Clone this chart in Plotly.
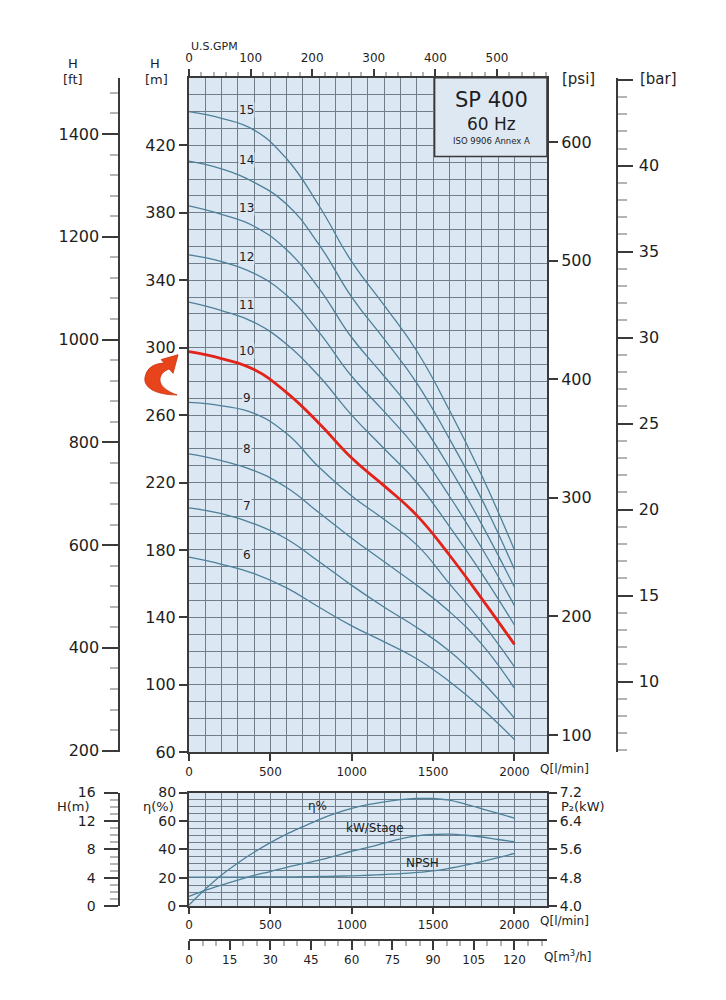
import plotly.graph_objects as go

# page body keeps an 8px margin, so the figure is sized to fit the 726x1000 window exactly
PAGE_MARGIN = 8
W, H = 726 - 2 * PAGE_MARGIN, 1000 - 2 * PAGE_MARGIN

# ---------------- data ----------------
q_lpm = [0, 200, 400, 600, 800, 1000, 1200, 1400, 1600, 1800, 2000]
head_6 = [175.7, 171.5, 166, 157.5, 146, 135, 125.5, 115.5, 102, 86, 67.6]
head_7 = [205, 201.5, 195.5, 186.5, 173, 159, 146, 134, 120, 102, 80.2]
head_8 = [237, 233, 227, 217, 202, 187, 173, 159, 143.5, 124, 98]
head_9 = [267.5, 265.5, 261, 249, 229, 212, 198, 183, 160, 137, 110.7]
head_10 = [297.6, 293.5, 287, 273.3, 255, 234.5, 218, 200.5, 177, 151, 124]
head_11 = [327, 322, 315, 302, 283, 260, 240, 220, 194, 166, 135.5]
head_12 = [355, 351, 344, 331, 309, 283, 262, 240, 212, 181, 147]
head_13 = [384, 379, 372, 358, 335, 306, 283, 259, 229, 195, 158]
head_14 = [410.6, 406, 398, 385, 361, 330, 305, 279, 246, 210, 168.5]
head_15 = [440, 436, 429, 412, 384, 351, 325, 298, 263, 224, 180]
stage_names = ["6", "7", "8", "9", "10", "11", "12", "13", "14", "15"]
stage_heads = [head_6, head_7, head_8, head_9, head_10, head_11, head_12, head_13, head_14, head_15]
highlight_stage = "10"
stage_label_q = 355
stage_label_h = [177, 206, 240, 270, 298, 325, 354, 383, 411, 441]

q_small = [0, 100, 200, 300, 400, 500, 600, 700, 800, 900, 1000,
           1100, 1200, 1300, 1400, 1500, 1600, 1700, 1800, 1900, 2000]
eff_pct = [1, 12, 22, 30.5, 38, 44.8, 50.8, 56, 61, 65.3, 68.8,
           71.5, 73.5, 75, 75.8, 75.8, 74.6, 71.8, 68.6, 65.3, 62]
kw_stage = [4.28, 4.45, 4.6, 4.74, 4.87, 4.98, 5.1, 5.2, 5.3, 5.42, 5.55,
            5.66, 5.78, 5.9, 5.98, 6.02, 6.03, 6.0, 5.95, 5.88, 5.82]
npsh_m = [4.12, 4.12, 4.12, 4.12, 4.13, 4.14, 4.15, 4.17, 4.2, 4.24, 4.3,
          4.38, 4.48, 4.6, 4.77, 5.0, 5.35, 5.8, 6.3, 6.85, 7.45]

h_ticks_m = [60, 100, 140, 180, 220, 260, 300, 340, 380, 420]
h_ticks_ft = [200, 400, 600, 800, 1000, 1200, 1400]
p_ticks_psi = [100, 200, 300, 400, 500, 600]
p_ticks_bar = [10, 15, 20, 25, 30, 35, 40]
eff_ticks = [0, 20, 40, 60, 80]
kw_ticks = [4.0, 4.8, 5.6, 6.4, 7.2]
npsh_ticks = [0, 4, 8, 12, 16]

Q_MAX = 2200
H_MIN, H_MAX = 60, 460
M_PER_FT = 0.3048
M_PER_PSI = 0.70307
M_PER_BAR = 10.19716
LPM_PER_GPM = 3.785411784

# ---------------- style ----------------
FONT = "DejaVu Sans"
TXT = "#1e1e1e"
DARK = "#3a3a3a"
GRID = "#6f7e8a"
BG = "#dbe7f3"
CURVE = "#4d8099"
RED = "#e2231a"
LIGHT = "#b4b4b4"


def fx(p):
    return (p - PAGE_MARGIN) / W


def fy(p):
    return 1 - (p - PAGE_MARGIN) / H


X_DOM = [fx(186), fx(546)]
Y_MAIN = [fy(758), fy(71)]
Y_BOT = [fy(915), fy(799)]

fig = go.Figure()

for name, h in zip(stage_names, stage_heads):
    if name == highlight_stage:
        continue
    fig.add_trace(go.Scatter(x=q_lpm, y=h, mode="lines", xaxis="x", yaxis="y",
                             line=dict(color=CURVE, width=1.3, shape="spline", smoothing=1.3),
                             hoverinfo="skip", showlegend=False))
hi = stage_heads[stage_names.index(highlight_stage)]
fig.add_trace(go.Scatter(x=q_lpm, y=hi, mode="lines", xaxis="x", yaxis="y",
                         line=dict(color=RED, width=2.8, shape="spline", smoothing=1.3),
                         hoverinfo="skip", showlegend=False))

# invisible traces to activate the secondary axes
fig.add_trace(go.Scatter(x=[0, Q_MAX / LPM_PER_GPM], y=[H_MIN, H_MAX], xaxis="x2", yaxis="y",
                         mode="lines", line=dict(width=0), opacity=0, hoverinfo="skip", showlegend=False))
fig.add_trace(go.Scatter(x=[0, Q_MAX], y=[H_MIN / M_PER_PSI, H_MAX / M_PER_PSI], xaxis="x", yaxis="y3",
                         mode="lines", line=dict(width=0), opacity=0, hoverinfo="skip", showlegend=False))
fig.add_trace(go.Scatter(x=[0, Q_MAX], y=[H_MIN / M_PER_FT, H_MAX / M_PER_FT], xaxis="x", yaxis="y4",
                         mode="lines", line=dict(width=0), opacity=0, hoverinfo="skip", showlegend=False))
fig.add_trace(go.Scatter(x=[0, Q_MAX], y=[H_MIN / M_PER_BAR, H_MAX / M_PER_BAR], xaxis="x", yaxis="y5",
                         mode="lines", line=dict(width=0), opacity=0, hoverinfo="skip", showlegend=False))

# lower chart
fig.add_trace(go.Scatter(x=q_small, y=eff_pct, mode="lines", xaxis="x3", yaxis="y6",
                         line=dict(color=CURVE, width=1.3, shape="spline"), hoverinfo="skip", showlegend=False))
fig.add_trace(go.Scatter(x=q_small, y=kw_stage, mode="lines", xaxis="x3", yaxis="y7",
                         line=dict(color=CURVE, width=1.3, shape="spline"), hoverinfo="skip", showlegend=False))
fig.add_trace(go.Scatter(x=q_small, y=npsh_m, mode="lines", xaxis="x3", yaxis="y8",
                         line=dict(color=CURVE, width=1.3, shape="spline"), hoverinfo="skip", showlegend=False))
fig.add_trace(go.Scatter(x=[0, Q_MAX * 0.06], y=[0, 80], xaxis="x4", yaxis="y6",
                         mode="lines", line=dict(width=0), opacity=0, hoverinfo="skip", showlegend=False))

common = dict(zeroline=False, linecolor=DARK, linewidth=2, tickcolor=DARK, tickwidth=1.5,
              fixedrange=True)

layout = dict(
    width=W, height=H, margin=dict(l=0, r=0, t=0, b=0),
    paper_bgcolor="white", plot_bgcolor=BG, showlegend=False,
    font=dict(family=FONT, color=TXT, size=12),
    xaxis=dict(domain=X_DOM, anchor="y", range=[0, Q_MAX], tick0=0, dtick=500,
               ticks="outside", ticklen=7, showline=True, showgrid=True, gridcolor=GRID, gridwidth=1,
               minor=dict(tick0=0, dtick=100, showgrid=True, gridcolor=GRID, gridwidth=1),
               tickfont=dict(size=12), **common),
    yaxis=dict(domain=Y_MAIN, anchor="x", range=[H_MIN, H_MAX], tickvals=h_ticks_m,
               ticks="outside", ticklen=8, showline=True, showgrid=True, gridcolor=GRID, gridwidth=1,
               minor=dict(tickmode="linear", tick0=60, dtick=10, showgrid=True, gridcolor=GRID, gridwidth=1),
               tickfont=dict(size=16), **common),
    xaxis2=dict(overlaying="x", side="top", anchor="y", range=[0, Q_MAX / LPM_PER_GPM], tick0=0, dtick=100,
                ticks="outside", ticklen=7, showline=True, showgrid=False,
                minor=dict(tick0=0, dtick=20, ticks="outside", ticklen=4, tickcolor=LIGHT, showgrid=False),
                tickfont=dict(size=12), ticklabelstandoff=2, **common),
    yaxis3=dict(overlaying="y", side="right", anchor="x", range=[H_MIN / M_PER_PSI, H_MAX / M_PER_PSI],
                tickvals=p_ticks_psi, ticks="outside", ticklen=9, showline=True, showgrid=False,
                tickfont=dict(size=16), **common),
    yaxis4=dict(overlaying="y", side="left", anchor="free", position=fx(116),
                range=[H_MIN / M_PER_FT, H_MAX / M_PER_FT], tickvals=h_ticks_ft,
                ticks="outside", ticklen=16, showline=True, showgrid=False,
                minor=dict(tickmode="linear", tick0=200, dtick=40, ticks="outside", ticklen=8,
                           tickcolor=LIGHT, tickwidth=1.5, showgrid=False),
                tickfont=dict(size=16), **common),
    yaxis5=dict(overlaying="y", side="right", anchor="free", position=fx(616),
                range=[H_MIN / M_PER_BAR, H_MAX / M_PER_BAR], tickvals=p_ticks_bar + [45],
                ticktext=[str(v) for v in p_ticks_bar] + [" "],
                ticks="outside", ticklen=15, showline=True, showgrid=False,
                minor=dict(tickmode="linear", tick0=0, dtick=1, ticks="outside", ticklen=9,
                           tickcolor=LIGHT, tickwidth=1.5, showgrid=False),
                tickfont=dict(size=16), ticklabelstandoff=3, **common),
    xaxis3=dict(domain=X_DOM, anchor="y6", range=[0, Q_MAX], tick0=0, dtick=500,
                ticks="outside", ticklen=6, showline=True, mirror=True, showgrid=True, gridcolor=GRID,
                minor=dict(tick0=0, dtick=100, showgrid=True, gridcolor=GRID),
                tickfont=dict(size=12), **common),
    yaxis6=dict(domain=Y_BOT, anchor="x3", range=[0, 80], tickvals=eff_ticks,
                ticks="outside", ticklen=8, showline=True, showgrid=True, gridcolor=GRID,
                minor=dict(tickmode="linear", tick0=0, dtick=5, showgrid=True, gridcolor=GRID),
                tickfont=dict(size=14), **common),
    yaxis7=dict(overlaying="y6", side="right", anchor="x3", range=[4.0, 7.2], tickvals=kw_ticks,
                tickformat=".1f", ticks="outside", ticklen=8, showline=True, showgrid=False,
                tickfont=dict(size=14), **common),
    yaxis8=dict(overlaying="y6", side="left", anchor="free", position=fx(116), range=[0, 16],
                tickvals=npsh_ticks, ticks="outside", ticklen=14, showline=True, showgrid=False,
                minor=dict(tickmode="linear", tick0=0, dtick=1, ticks="outside", ticklen=8,
                           tickcolor=LIGHT, tickwidth=1.5, showgrid=False),
                tickfont=dict(size=14), ticklabelstandoff=6, **common),
    xaxis4=dict(overlaying="x3", side="bottom", anchor="free", position=fy(949), range=[0, Q_MAX * 0.06],
                tick0=0, dtick=15, ticks="outside", ticklen=9, showline=True, showgrid=False,
                minor=dict(tick0=0, dtick=5, ticks="outside", ticklen=5, tickcolor=LIGHT, showgrid=False),
                tickfont=dict(size=12), **common),
)
fig.update_layout(**layout)


def ann(text, x, y, size, xanchor="center", bg=None, pad=1):
    d = dict(text=text, x=fx(x), y=fy(y), xref="paper", yref="paper", showarrow=False,
             xanchor=xanchor, yanchor="middle", borderpad=pad,
             font=dict(size=size, color=TXT, family=FONT))
    if bg:
        d["bgcolor"] = bg
    fig.add_annotation(**d)


ann("U.S.GPM", 212, 39, 11, pad=0)
ann("H", 69, 56.5, 13, pad=0)
ann("[ft]", 69, 72.5, 13, pad=0)
ann("H", 152, 56.5, 13, pad=0)
ann("[m]", 153, 72.5, 13, pad=0)
ann("[psi]", 578, 72, 15)
ann("[bar]", 658, 72, 15)
ann("Q[l/min]", 564, 775, 12)
ann("Q[l/min]", 564, 930, 12)
ann("H(m)", 70, 813.5, 13, pad=0)
ann("η(%)", 155, 813.5, 13, pad=0)
ann("P₂(kW)", 582, 813.5, 13, pad=0)
ann("Q[m<sup>3</sup>/h]", 567, 966, 12)
ann("η%", 315, 813, 12)
ann("kW/Stage", 373, 835, 12)
ann("NPSH", 421, 871, 12)

for name, hl in zip(stage_names, stage_label_h):
    fig.add_annotation(text=name, x=stage_label_q, y=hl, xref="x", yref="y", showarrow=False,
                       font=dict(size=12, color=TXT, family=FONT), bgcolor=BG, borderpad=0)

# title box
fig.add_shape(type="rect", xref="paper", yref="paper", x0=fx(433), x1=fx(546), y0=fy(151), y1=fy(71),
              fillcolor="#dde8f3", line=dict(color=DARK, width=1.5), layer="above")
ann("SP 400", 490, 94, 21)
ann("60 Hz", 490, 118, 17)
ann("ISO 9906 Annex A", 490, 135, 8.5)


# curved arrow pointing to the highlighted curve
def P(x, y):
    return f"{fx(x):.5f},{fy(y):.5f}"


arrow = (f"M {P(158,358)} L {P(175,353)} L {P(170,372)} L {P(166,367.5)} "
         f"C {P(154,372)} {P(151,386)} {P(174,394)} "
         f"C {P(152,394)} {P(139,386)} {P(142,375)} "
         f"C {P(144,366)} {P(151,362)} {P(161,361.5)} Z")
fig.add_shape(type="path", path=arrow, xref="paper", yref="paper",
              fillcolor="#e8441c", line=dict(color="#c8320f", width=0.8), layer="above")

fig.write_html("out.html")
